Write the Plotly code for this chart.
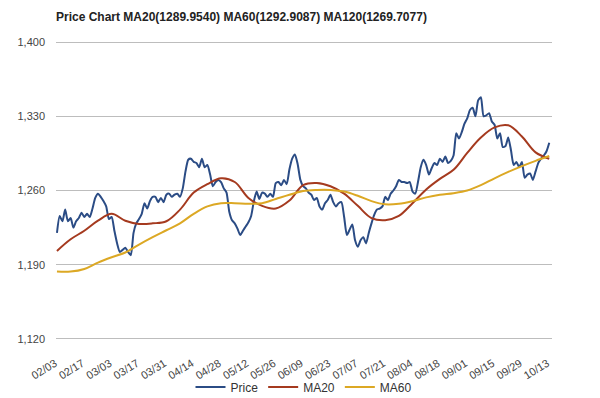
import plotly.graph_objects as go

title_text = "Price Chart MA20(1289.9540) MA60(1292.9087) MA120(1269.7077)"

tick_days = list(range(0, 181, 10))
tick_labels = ["02/03", "02/17", "03/03", "03/17", "03/31", "04/14", "04/28", "05/12",
               "05/26", "06/09", "06/23", "07/07", "07/21", "08/04", "08/18", "09/01",
               "09/15", "09/29", "10/13"]

# daily closing price, trading day 0..180
price = [
    1220, 1236, 1231, 1242, 1231, 1234, 1225, 1231, 1234, 1239,
    1235, 1238, 1235, 1243, 1253, 1257, 1254, 1250, 1245, 1233,
    1235, 1222, 1210, 1202, 1204, 1206, 1202, 1199, 1220, 1229,
    1233, 1238, 1248, 1243, 1250, 1254, 1254, 1249, 1253, 1249,
    1256, 1257, 1254, 1256, 1257, 1254, 1262, 1278, 1289, 1290,
    1287, 1286, 1282, 1290, 1282, 1284, 1275, 1264, 1268, 1270,
    1268, 1262, 1258, 1240, 1232, 1229, 1224, 1218, 1222, 1226,
    1230, 1236, 1250, 1259, 1252, 1258, 1257, 1254, 1257, 1254,
    1267, 1268, 1265, 1270, 1266, 1280, 1290, 1294, 1285, 1270,
    1264, 1262, 1258, 1256, 1251, 1253, 1245, 1242, 1248, 1251,
    1256, 1249, 1245, 1248, 1249, 1235, 1218, 1223, 1228, 1213,
    1207, 1213, 1216, 1210, 1220, 1229, 1237, 1242, 1243, 1245,
    1254, 1251, 1257, 1260, 1264, 1270, 1268, 1268, 1267, 1268,
    1259, 1257, 1268, 1282, 1289, 1284, 1275, 1281, 1286, 1284,
    1290, 1287, 1292, 1286, 1288, 1293, 1314, 1309, 1315, 1323,
    1328, 1336, 1338, 1330, 1345, 1348, 1330, 1331, 1333, 1325,
    1322, 1309, 1314, 1301, 1302, 1310, 1298, 1284, 1287, 1282,
    1287, 1272, 1275, 1276, 1270, 1278, 1286, 1290, 1293, 1297,
    1305,
]

# moving averages sampled every 5 trading days
ma_days = list(range(0, 181, 5))
ma20 = [1203, 1214, 1222, 1231.5, 1238, 1231.5, 1228.5, 1229, 1231, 1242,
        1258, 1266, 1271.5, 1268, 1253, 1245.5, 1243, 1250.5, 1265, 1267,
        1264, 1257, 1245.5, 1234, 1232, 1236, 1248, 1261, 1271, 1279.5,
        1295.5, 1310, 1319.5, 1321.5, 1311, 1296, 1290]
ma60 = [1183.5, 1183.5, 1186, 1192, 1197, 1201.5, 1209, 1216, 1222.5, 1229,
        1238, 1245, 1248, 1248, 1247.5, 1248, 1252, 1256, 1259.5, 1260.5,
        1260.5, 1259, 1255, 1250, 1247, 1247.5, 1250, 1253.5, 1256, 1257.5,
        1260, 1265, 1271.5, 1277.5, 1283, 1288, 1292.5]

y_ticks = [1120, 1190, 1260, 1330, 1400]

price_days = list(range(len(price)))

FONT = "Liberation Sans, Arial, sans-serif"

fig = go.Figure()
fig.add_trace(go.Scatter(x=price_days, y=price, mode="lines", name="Price",
                         line=dict(color="#2b4c85", width=2, shape="spline", smoothing=0.6)))
fig.add_trace(go.Scatter(x=ma_days, y=ma20, mode="lines", name="MA20",
                         line=dict(color="#a53a1f", width=2, shape="spline", smoothing=1)))
fig.add_trace(go.Scatter(x=ma_days, y=ma60, mode="lines", name="MA60",
                         line=dict(color="#dca824", width=2, shape="spline", smoothing=1)))

# plot area: 1400 at y=42px, 1120 at y=339px
fig.update_layout(
    width=600, height=398,
    margin=dict(l=56, r=48, t=40, b=57, autoexpand=False),
    paper_bgcolor="white", plot_bgcolor="white",
    font=dict(family=FONT, size=11, color="#444"),
    title=dict(text="<b>" + title_text + "</b>", x=56 / 600, xanchor="left",
               y=1 - 17 / 398, yanchor="middle",
               font=dict(family=FONT, size=12, color="#222")),
    showlegend=True,
    legend=dict(orientation="h", x=0.5, xanchor="center",
                y=-(387 - 341) / 301, yanchor="middle",
                bgcolor="rgba(0,0,0,0)",
                font=dict(family=FONT, size=12, color="#333"),
                itemwidth=30, tracegroupgap=0),
    xaxis=dict(range=[-0.35, 181], tickvals=tick_days, ticktext=tick_labels,
               tickangle=-32, showgrid=False, zeroline=False, showline=False,
               ticks="", automargin=False, ticklabelstandoff=13, ticklabelshift=-2,
               tickfont=dict(size=11, color="#444")),
    yaxis=dict(range=[1118, 1402], tickvals=y_ticks,
               tickformat=",", showgrid=True, gridcolor="#bdbdbd", gridwidth=1,
               zeroline=False, showline=False, ticks="", automargin=False,
               ticklabelstandoff=10,
               tickfont=dict(size=11, color="#444")),
)

fig.write_html("out.html", config={"displayModeBar": False},
               post_script="document.body.style.margin='0';")
